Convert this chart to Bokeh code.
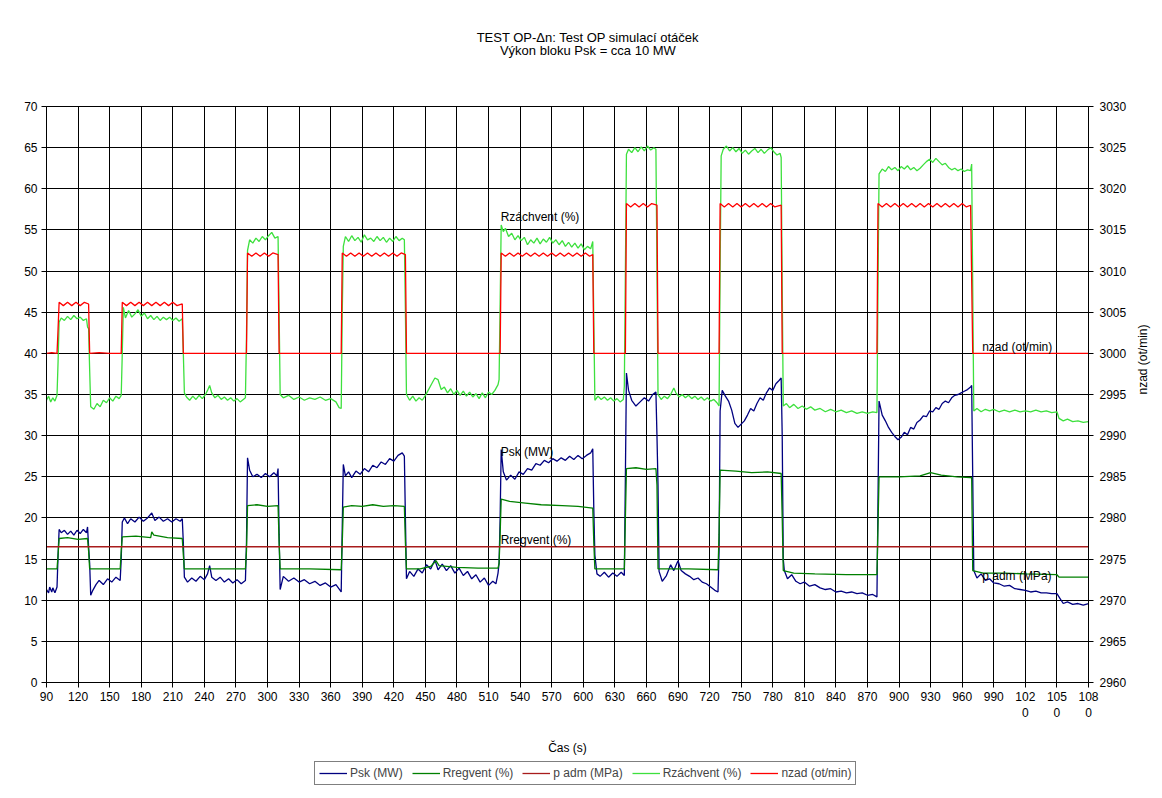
import math
from bokeh.plotting import figure
from bokeh.layouts import column
from bokeh.models import (Range1d, LinearAxis, FixedTicker, Legend, LegendItem,
                          ColumnDataSource)
from bokeh.core.properties import value
from bokeh.embed import file_html
from bokeh.resources import INLINE

# ---------------- data ----------------
psk = [(90, 11.3), (92, 10.9), (93, 11.6), (95, 11.0), (96, 11.5), (98, 10.9), (100, 11.6), (101, 15.5),
       (102, 18.6), (104, 18.2), (107, 18.5), (110, 18.0), (113, 18.4), (116, 17.9), (119, 18.5), (122, 18.1),
       (125, 18.6), (128, 18.2), (129, 18.9), (130, 16.5), (131, 14.5), (132, 10.6), (134, 11.2), (137, 11.9),
       (140, 12.4), (144, 11.9), (148, 12.6), (152, 12.2), (156, 12.8), (160, 12.4), (161, 15.0), (162, 19.5),
       (164, 20.0), (167, 19.3), (170, 19.9), (174, 19.5), (178, 20.1), (182, 19.6), (186, 20.0), (190, 20.6),
       (193, 19.7), (197, 20.1), (201, 19.6), (205, 19.9), (209, 19.5), (213, 19.9), (217, 19.6), (219, 19.9),
       (220, 17.0), (221, 12.8), (224, 12.2), (228, 12.7), (232, 12.3), (236, 12.9), (240, 12.5), (243, 13.2),
       (245, 14.2), (247, 12.8), (251, 12.4), (255, 12.8), (259, 12.2), (263, 12.6), (267, 12.1), (271, 12.5),
       (275, 12.0), (279, 12.4), (280, 17.0), (281, 27.3), (283, 25.8), (286, 25.0), (290, 25.3), (294, 24.9),
       (298, 25.4), (302, 25.0), (306, 25.5), (309, 25.1), (310, 26.0), (311, 18.0), (312, 11.3), (315, 12.9),
       (320, 12.3), (325, 12.7), (330, 12.2), (335, 12.5), (340, 12.0), (345, 12.3), (350, 11.8), (355, 12.1),
       (360, 11.6), (365, 11.9), (369, 11.2), (370, 11.0), (371, 19.0), (372, 26.5), (374, 25.1), (377, 25.6),
       (380, 24.9), (384, 25.7), (388, 25.3), (392, 26.0), (396, 25.6), (400, 26.4), (404, 26.1), (408, 26.8),
       (412, 26.5), (416, 27.2), (420, 26.9), (424, 27.6), (428, 27.9), (430, 27.5), (431, 20.0), (432, 12.6),
       (435, 13.5), (439, 12.9), (443, 13.8), (447, 13.3), (451, 14.3), (455, 13.8), (459, 14.9), (462, 13.7),
       (466, 14.4), (470, 13.6), (474, 14.2), (478, 13.3), (482, 13.9), (486, 13.0), (490, 13.5), (494, 12.6),
       (498, 13.1), (502, 12.2), (506, 12.7), (510, 11.8), (514, 12.3), (517, 12.0), (519, 13.3), (520, 14.5),
       (521, 20.0), (522, 28.3), (524, 25.6), (527, 24.6), (531, 25.2), (535, 24.7), (539, 25.6), (543, 25.3),
       (547, 26.0), (551, 25.8), (555, 26.6), (559, 26.4), (563, 27.0), (567, 26.7), (571, 27.2), (575, 26.9),
       (579, 27.3), (583, 27.0), (587, 27.5), (591, 27.1), (595, 27.6), (599, 27.2), (603, 27.6), (607, 27.9),
       (609, 28.4), (610, 21.0), (611, 15.5), (613, 13.2), (616, 12.9), (620, 13.4), (624, 12.8), (628, 13.3),
       (632, 12.9), (636, 13.4), (639, 13.0), (640, 25.0), (641, 37.6), (643, 35.5), (646, 34.3), (650, 33.6),
       (654, 34.1), (658, 34.6), (662, 34.2), (666, 35.0), (669, 35.3), (670, 30.0), (671, 24.0), (672, 13.5),
       (675, 12.3), (679, 13.0), (683, 14.3), (686, 13.6), (690, 14.8), (693, 13.6), (697, 13.2), (701, 12.9),
       (705, 12.5), (709, 12.7), (713, 12.2), (717, 12.0), (721, 11.6), (725, 11.2), (728, 11.0), (729, 16.0),
       (730, 33.0), (732, 35.5), (735, 34.8), (738, 34.2), (741, 33.1), (744, 31.5), (747, 31.0), (750, 31.4),
       (753, 31.8), (756, 32.5), (759, 33.3), (762, 33.0), (765, 33.9), (768, 34.6), (771, 34.3), (774, 35.2),
       (777, 35.8), (780, 35.5), (783, 36.3), (786, 36.7), (788, 37.0), (789, 30.0), (790, 15.0), (791, 13.6),
       (794, 12.6), (798, 13.1), (802, 12.3), (806, 12.0), (810, 12.2), (815, 11.7), (820, 11.9), (825, 11.5),
       (830, 11.3), (835, 11.4), (840, 11.0), (845, 11.1), (850, 10.9), (855, 11.0), (860, 10.8), (865, 10.9),
       (870, 10.6), (875, 10.7), (879, 10.4), (880, 22.0), (881, 34.2), (884, 32.5), (887, 31.8), (890, 31.0),
       (893, 30.4), (896, 29.9), (899, 29.5), (902, 29.8), (905, 30.4), (908, 30.1), (911, 31.0), (914, 30.8),
       (917, 31.6), (920, 31.9), (923, 32.4), (926, 32.3), (929, 33.0), (932, 32.9), (935, 33.4), (938, 33.2),
       (941, 33.9), (944, 34.2), (947, 34.0), (950, 34.6), (953, 34.9), (956, 35.0), (959, 35.2), (962, 35.4),
       (965, 35.6), (968, 35.9), (969, 36.1), (970, 25.0), (971, 13.6), (974, 12.7), (978, 13.2), (982, 12.4),
       (986, 12.6), (990, 12.1), (995, 12.0), (1000, 11.7), (1005, 11.8), (1010, 11.4), (1015, 11.3), (1020, 11.2),
       (1025, 11.0), (1030, 11.1), (1035, 10.9), (1040, 10.9), (1045, 10.8), (1050, 10.8), (1053, 10.2), (1056, 9.6),
       (1060, 9.8), (1065, 9.5), (1070, 9.6), (1075, 9.4), (1080, 9.6)]

rregvent = [(90, 13.8), (100, 13.8), (101, 15.5), (102, 17.5), (110, 17.6), (120, 17.4), (129, 17.5), (130, 16.0),
            (131, 13.8), (145, 13.8), (160, 13.8), (161, 16.0), (162, 17.7), (175, 17.8), (189, 17.6), (190, 18.3),
            (192, 17.9), (205, 17.6), (219, 17.5), (220, 15.5), (221, 13.8), (250, 13.8), (279, 13.8), (280, 16.0),
            (281, 21.5), (290, 21.6), (300, 21.4), (310, 21.5), (311, 17.0), (312, 13.8), (340, 13.8), (370, 13.7),
            (371, 17.0), (372, 21.3), (380, 21.5), (390, 21.4), (400, 21.6), (410, 21.4), (420, 21.5), (430, 21.4),
            (431, 17.0), (432, 13.8), (445, 13.8), (455, 14.1), (460, 14.8), (463, 14.2), (480, 14.0), (500, 13.9),
            (519, 13.9), (520, 14.5), (521, 18.0), (522, 22.3), (530, 22.0), (545, 21.8), (560, 21.6), (580, 21.5),
            (595, 21.4), (609, 21.2), (610, 17.0), (611, 13.8), (625, 13.8), (639, 13.8), (640, 20.0), (641, 26.0),
            (650, 26.1), (660, 25.9), (669, 26.0), (670, 24.0), (671, 13.8), (700, 13.8), (728, 13.7), (729, 18.0),
            (730, 25.8), (745, 25.7), (760, 25.5), (775, 25.6), (788, 25.4), (789, 20.0), (790, 13.6), (800, 13.3),
            (820, 13.2), (850, 13.1), (879, 13.1), (880, 19.0), (881, 25.0), (900, 25.0), (920, 25.1), (930, 25.5),
            (940, 25.2), (955, 25.0), (968, 24.9), (969, 24.9), (970, 13.6), (980, 13.3), (1000, 13.3), (1020, 13.2),
            (1050, 13.1), (1052, 12.8), (1065, 12.8), (1080, 12.8)]

padm = [(90, 16.5), (1080, 16.5)]

rzachvent = [(90, 34.3), (92, 34.8), (94, 34.1), (96, 34.6), (98, 34.2), (100, 34.9), (101, 39.0), (102, 43.8),
             (104, 44.3), (107, 44.0), (110, 44.5), (113, 44.1), (116, 44.6), (119, 44.2), (122, 44.4), (125, 44.0),
             (128, 44.2), (129, 43.2), (130, 43.0), (131, 38.0), (132, 33.5), (135, 33.2), (138, 33.9), (141, 33.5),
             (144, 34.3), (147, 34.0), (150, 34.6), (153, 34.2), (156, 34.8), (159, 34.5), (161, 34.9), (162, 40.0),
             (163, 45.6), (165, 44.3), (168, 45.2), (171, 44.4), (174, 44.8), (177, 45.3), (180, 44.5), (183, 44.9),
             (186, 44.2), (189, 44.6), (192, 44.1), (195, 44.5), (198, 44.0), (201, 44.4), (204, 44.1), (207, 44.4),
             (210, 44.0), (213, 44.3), (216, 43.9), (219, 44.2), (220, 40.0), (221, 35.2), (223, 34.7), (226, 34.3),
             (229, 34.8), (232, 34.4), (235, 34.9), (238, 34.5), (241, 35.0), (243, 35.5), (245, 36.1), (247, 35.2),
             (250, 34.6), (253, 34.9), (256, 34.4), (259, 34.7), (262, 34.3), (265, 34.6), (268, 34.2), (271, 34.5),
             (274, 34.1), (277, 34.4), (279, 34.6), (280, 42.0), (281, 52.5), (283, 53.8), (286, 53.4), (289, 54.0),
             (292, 53.6), (295, 54.2), (298, 53.8), (301, 54.3), (304, 54.7), (307, 54.0), (310, 54.2), (311, 45.0),
             (312, 35.0), (315, 34.6), (320, 34.9), (325, 34.4), (330, 34.7), (335, 34.3), (340, 34.6), (345, 34.4),
             (350, 34.7), (355, 34.3), (360, 34.5), (365, 34.1), (368, 33.4), (370, 33.3), (371, 45.0), (372, 53.0),
             (374, 54.2), (377, 53.6), (380, 54.3), (383, 53.7), (386, 54.1), (389, 53.5), (392, 54.4), (395, 53.8),
             (398, 54.0), (401, 53.6), (404, 54.2), (407, 53.7), (410, 54.1), (413, 53.5), (416, 54.0), (419, 53.6),
             (422, 54.2), (425, 53.7), (428, 54.0), (430, 53.8), (431, 45.0), (432, 35.0), (435, 34.3), (438, 34.8),
             (441, 34.2), (444, 34.6), (447, 34.3), (450, 34.9), (453, 35.6), (456, 36.3), (459, 37.0), (462, 36.8),
             (465, 35.6), (468, 35.9), (471, 35.2), (474, 35.7), (477, 35.0), (480, 35.5), (483, 34.9), (486, 35.4),
             (489, 34.8), (492, 35.3), (495, 34.7), (498, 35.1), (501, 34.5), (504, 35.2), (507, 34.6), (510, 35.3),
             (513, 35.0), (516, 35.5), (519, 36.2), (520, 36.8), (521, 46.0), (522, 55.6), (524, 54.8), (526, 55.2),
             (529, 54.2), (532, 54.6), (535, 53.8), (538, 54.3), (541, 53.7), (544, 54.1), (547, 53.2), (550, 53.8),
             (553, 53.4), (556, 54.0), (559, 53.3), (562, 53.9), (565, 53.5), (568, 54.1), (571, 53.4), (574, 53.8),
             (577, 53.2), (580, 53.7), (583, 53.0), (586, 53.5), (589, 52.9), (592, 53.4), (595, 52.8), (598, 53.3),
             (601, 52.6), (604, 53.0), (607, 52.7), (609, 53.6), (610, 44.0), (611, 34.3), (614, 34.8), (617, 34.4),
             (620, 34.7), (623, 34.3), (626, 34.6), (629, 34.2), (632, 34.5), (635, 34.1), (638, 34.4), (639, 36.0),
             (640, 50.0), (641, 64.2), (643, 64.8), (646, 64.4), (649, 65.0), (652, 64.5), (655, 65.1), (658, 64.6),
             (661, 65.2), (664, 64.7), (667, 65.0), (669, 64.8), (670, 50.0), (671, 35.0), (674, 34.4), (677, 34.8),
             (680, 34.5), (683, 35.0), (686, 35.8), (688, 35.2), (691, 34.7), (694, 35.0), (697, 34.6), (700, 34.9),
             (703, 34.5), (706, 34.8), (709, 34.4), (712, 34.7), (715, 34.3), (718, 34.6), (721, 34.2), (724, 34.4),
             (727, 34.0), (729, 33.6), (730, 50.0), (731, 64.0), (733, 64.8), (736, 65.2), (739, 64.6), (742, 65.0),
             (745, 64.5), (748, 64.9), (751, 64.3), (754, 64.7), (757, 64.2), (760, 64.6), (763, 64.9), (766, 64.4),
             (769, 64.8), (772, 64.3), (775, 64.7), (778, 65.0), (781, 64.5), (784, 64.1), (787, 64.3), (788, 63.8),
             (789, 48.0), (790, 33.6), (793, 33.9), (796, 33.4), (800, 33.8), (804, 33.3), (808, 33.6), (812, 33.2),
             (816, 33.5), (820, 33.1), (825, 33.3), (830, 32.9), (835, 33.2), (840, 32.9), (845, 33.1), (850, 32.8),
             (855, 33.0), (860, 32.7), (865, 32.9), (870, 32.7), (875, 32.9), (879, 32.8), (880, 48.0), (881, 61.8),
             (884, 62.4), (887, 62.1), (890, 62.7), (893, 62.3), (896, 62.6), (899, 62.2), (902, 62.7), (905, 62.4),
             (908, 62.8), (911, 62.3), (914, 62.6), (917, 62.2), (920, 62.5), (923, 62.9), (926, 63.3), (929, 63.6),
             (932, 63.2), (935, 63.7), (938, 63.3), (941, 62.9), (944, 63.1), (947, 62.6), (950, 62.3), (953, 62.5),
             (956, 62.2), (959, 62.4), (962, 62.1), (965, 62.3), (968, 62.2), (969, 63.0), (970, 48.0), (971, 33.0),
             (974, 33.3), (978, 32.9), (982, 33.2), (986, 33.0), (990, 33.2), (995, 32.9), (1000, 33.1), (1005, 32.9),
             (1010, 33.1), (1015, 32.9), (1020, 33.0), (1025, 32.9), (1030, 33.1), (1035, 32.9), (1040, 33.0),
             (1045, 32.8), (1050, 32.9), (1052, 32.1), (1056, 31.8), (1060, 32.0), (1065, 31.7), (1070, 31.8),
             (1075, 31.6), (1080, 31.7)]

nzad = [(90, 3000.0), (95, 3000.1), (100, 3000.0), (101, 3003.0), (102, 3006.2), (106, 3005.8), (110, 3006.2),
        (114, 3005.8), (118, 3006.2), (122, 3005.8), (126, 3006.2), (130, 3006.0), (131, 3000.0), (140, 3000.1),
        (150, 3000.0), (161, 3000.0), (162, 3006.2), (166, 3005.8), (170, 3006.2), (174, 3005.8), (178, 3006.2),
        (182, 3005.8), (186, 3006.2), (190, 3005.8), (194, 3006.2), (198, 3005.8), (202, 3006.2), (206, 3005.8),
        (210, 3006.2), (214, 3005.8), (219, 3006.0), (220, 3000.0), (250, 3000.0), (280, 3000.0), (281, 3012.2),
        (285, 3011.8), (289, 3012.2), (293, 3011.8), (297, 3012.2), (301, 3011.8), (305, 3012.2), (310, 3012.0),
        (311, 3000.0), (340, 3000.0), (370, 3000.0), (371, 3012.2), (375, 3011.8), (379, 3012.2), (383, 3011.8),
        (387, 3012.2), (391, 3011.8), (395, 3012.2), (399, 3011.8), (403, 3012.2), (407, 3011.8), (411, 3012.2),
        (415, 3011.8), (419, 3012.2), (423, 3011.8), (427, 3012.2), (431, 3012.0), (432, 3000.0), (480, 3000.0),
        (521, 3000.0), (522, 3012.2), (526, 3011.8), (530, 3012.2), (534, 3011.8), (538, 3012.2), (542, 3011.8),
        (546, 3012.2), (550, 3011.8), (554, 3012.2), (558, 3011.8), (562, 3012.2), (566, 3011.8), (570, 3012.2),
        (574, 3011.8), (578, 3012.2), (582, 3011.8), (586, 3012.2), (590, 3011.8), (594, 3012.2), (598, 3011.8),
        (602, 3012.2), (606, 3011.8), (609, 3012.0), (610, 3000.0), (625, 3000.0), (640, 3000.0), (641, 3018.2),
        (645, 3017.8), (649, 3018.2), (653, 3017.8), (657, 3018.2), (661, 3017.8), (665, 3018.2), (670, 3018.0),
        (671, 3000.0), (700, 3000.0), (729, 3000.0), (730, 3018.2), (734, 3017.8), (738, 3018.2), (742, 3017.8),
        (746, 3018.2), (750, 3017.8), (754, 3018.2), (758, 3017.8), (762, 3018.2), (766, 3017.8), (770, 3018.2),
        (774, 3017.8), (778, 3018.2), (782, 3017.8), (788, 3018.0), (789, 3000.0), (830, 3000.0), (879, 3000.0),
        (880, 3018.2), (884, 3017.8), (888, 3018.2), (892, 3017.8), (896, 3018.2), (900, 3017.8), (904, 3018.2),
        (908, 3017.8), (912, 3018.2), (916, 3017.8), (920, 3018.2), (924, 3017.8), (928, 3018.2), (932, 3017.8),
        (936, 3018.2), (940, 3017.8), (944, 3018.2), (948, 3017.8), (952, 3018.2), (956, 3017.8), (960, 3018.2),
        (964, 3017.8), (968, 3018.0), (969, 3009.0), (970, 3000.0), (1020, 3000.0), (1080, 3000.0)]

x_ticks = [90, 120, 150, 180, 210, 240, 270, 300, 330, 360, 390, 420, 450, 480, 510, 540, 570, 600,
           630, 660, 690, 720, 750, 780, 810, 840, 870, 900, 930, 960, 990, 1020, 1050, 1080]
x_tick_overrides = {1020: "102\n0", 1050: "105\n0", 1080: "108\n0"}
y_ticks = [0, 5, 10, 15, 20, 25, 30, 35, 40, 45, 50, 55, 60, 65, 70]
y2_ticks = [2960, 2965, 2970, 2975, 2980, 2985, 2990, 2995, 3000, 3005, 3010, 3015, 3020, 3025, 3030]

series_names = ["Psk (MW)", "Rregvent (%)", "p adm (MPa)", "Rzáchvent (%)", "nzad (ot/min)"]
title_lines = ["TEST OP-\u0394n: Test OP simulací otáček", "Výkon bloku Psk = cca 10 MW"]

# in-plot data labels (series name at a point of that series)
lbl_text = ["Rzáchvent (%)", "Psk (MW)", "Rregvent (%)", "nzad (ot/min)", "p adm (MPa)"]
lbl_t = [521.5, 521.5, 521.5, 979, 979]
lbl_v = [56.6, 28.0, 17.3, 40.8, 12.9]

# ---------------- layout constants (pixels) ----------------
FONT = "Liberation Sans"
FS = "12px"
W = 1160
TITLE_H = 62
MAIN_H = 696
LEG_H = 38
FRAME_L, FRAME_R = 46, 1093
colors = ["#000080", "#008000", "#a81c1c", "#3de03d", "#ff0000"]


def bare_fig(h):
    # frame of strips is aligned with the main frame by the column layout;
    # x range is therefore given in page pixels of that frame
    f = figure(width=W, height=h, x_range=Range1d(FRAME_L, FRAME_R), y_range=Range1d(0, h),
               output_backend="svg", toolbar_location=None, x_axis_type=None, y_axis_type=None,
               min_border=0, min_border_left=0, min_border_right=0, min_border_top=0, min_border_bottom=0)
    f.outline_line_color = None
    f.xgrid.visible = False
    f.ygrid.visible = False
    f.background_fill_color = "white"
    f.border_fill_color = "white"
    return f


# ---------------- title strip ----------------
tf = bare_fig(TITLE_H)
tf.text(x=[590, 590], y=[TITLE_H - 36.5, TITLE_H - 49.5], text=title_lines,
        text_font=value(FONT), text_font_size="13px", text_align="center",
        text_baseline="middle", text_color="black")

# ---------------- main chart ----------------
p = figure(width=W, height=MAIN_H, x_range=Range1d(90, 1080), y_range=Range1d(0, 70),
           output_backend="svg", toolbar_location=None,
           min_border_left=FRAME_L, min_border_right=W - FRAME_R, min_border_top=106 - TITLE_H,
           min_border_bottom=TITLE_H + MAIN_H - 683)
p.extra_y_ranges = {"n": Range1d(2960, 3030)}
p.background_fill_color = "white"
p.border_fill_color = "white"
p.outline_line_color = "black"
p.outline_line_width = 1


def unzip(pairs):
    return [a for a, b in pairs], [b for a, b in pairs]


for pairs, col, rng in [(psk, colors[0], "default"), (rregvent, colors[1], "default"),
                        (padm, colors[2], "default"), (rzachvent, colors[3], "default"),
                        (nzad, colors[4], "n")]:
    xs, ys = unzip(pairs)
    p.line(xs, ys, line_color=col, line_width=1.3, y_range_name=rng)

src = ColumnDataSource(dict(x=lbl_t, y=lbl_v, t=lbl_text))
p.text(x="x", y="y", text="t", source=src, text_font=value(FONT), text_font_size=FS,
       text_align="left", text_baseline="middle", text_color="black")

xa = p.xaxis[0]
xa.ticker = FixedTicker(ticks=x_ticks)
xa.major_label_overrides = x_tick_overrides
xa.axis_label = "Čas (s)"
ya = p.yaxis[0]
ya.ticker = FixedTicker(ticks=y_ticks)
ya2 = LinearAxis(y_range_name="n", ticker=FixedTicker(ticks=y2_ticks), axis_label="nzad (ot/min)")
p.add_layout(ya2, "right")
for ax in (xa, ya, ya2):
    ax.minor_tick_line_color = None
    ax.major_tick_in = 0
    ax.major_tick_out = 5
    ax.axis_line_color = "black"
    ax.major_tick_line_color = "black"
    ax.major_label_text_font = FONT
    ax.major_label_text_font_size = FS
    ax.major_label_text_color = "black"
    ax.axis_label_text_font = FONT
    ax.axis_label_text_font_size = FS
    ax.axis_label_text_font_style = "normal"
    ax.axis_label_text_color = "black"
xa.major_label_standoff = 2
xa.axis_label_standoff = 18
ya.major_label_standoff = 4
ya2.major_label_standoff = 6
ya2.axis_label_standoff = 14
ya2.axis_label_orientation = math.pi / 2

p.xgrid.ticker = FixedTicker(ticks=x_ticks)
p.ygrid.ticker = FixedTicker(ticks=y_ticks)
for g in (p.xgrid[0], p.ygrid[0]):
    g.grid_line_color = "black"
    g.grid_line_width = 1
    g.grid_line_alpha = 1.0

# ---------------- legend strip ----------------
lf = bare_fig(LEG_H)
# legend-only renderers: their points lie outside the strip's visible range
leg_renderers = [lf.line(x=[0, 10], y=[-50, -50], line_color=c, line_width=1.3) for c in colors]
legend = Legend(items=[LegendItem(label=n, renderers=[r]) for n, r in zip(series_names, leg_renderers)],
                orientation="horizontal", location=(314 - FRAME_L, 11))
legend.label_text_font = FONT
legend.label_text_font_size = FS
legend.glyph_width = 28
legend.glyph_height = 12
legend.label_standoff = 3
legend.spacing = 9
legend.padding = 4
legend.margin = 0
legend.label_height = 12
legend.border_line_color = "black"
legend.border_line_width = 1
legend.background_fill_color = "white"
lf.add_layout(legend, "center")

layout = column(tf, p, lf, spacing=0)
open("out.html", "w").write(file_html(layout, INLINE))
